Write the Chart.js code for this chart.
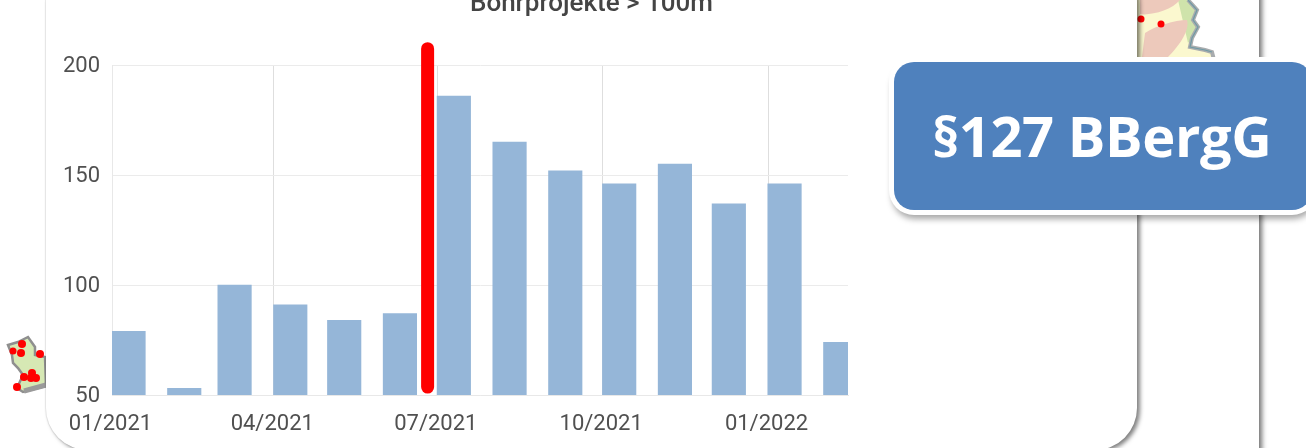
<!DOCTYPE html>
<html><head><meta charset="utf-8">
<script src="https://cdn.jsdelivr.net/npm/chart.js@4"></script>
<style>
html,body{margin:0;padding:0;background:#fff;width:1306px;height:448px;overflow:hidden}
#stage{position:relative;width:1306px;height:448px;overflow:hidden}
#slide{position:absolute;left:-60px;top:-60px;width:1319px;height:600px;background:#fff;box-shadow:3px 0 5px rgba(0,0,0,.55)}
#map{position:absolute;left:0;top:0}
#card{position:absolute;left:46px;top:-40px;width:1091px;height:490px;background:#fff;border-radius:42px;box-shadow:3px 2px 4px rgba(0,0,0,.5),-1px 0 1px rgba(0,0,0,.08)}
#wrap{position:absolute;left:46px;top:-40px;width:1091px;height:486px}
#box{position:absolute;left:894px;top:62px;width:418px;height:148px;box-sizing:border-box;background:#4f81bd;border-radius:20px;box-shadow:0 0 0 5px #fff,1px 6px 6px 3px rgba(0,0,0,.35);color:#fff;font:700 56px "Open Sans",sans-serif;letter-spacing:-.4px;line-height:148px;padding-left:38px;white-space:nowrap}
#box span{position:relative;top:-1px}
</style></head>
<body><div id="stage">
<div id="slide"></div>
<svg id="map" width="1306" height="448">
 <path d="M8 345 L18 342 L28 337 L35 347 L35 355 L45 357 L46 386 L23 392 L17 388 L23 375 L18 368 L13 363 L12 355 Z" fill="#d6e8b4" stroke="#8f8f8f" stroke-width="2.5"/>
 <path d="M24 391 L46 385" stroke="#9a9a9a" stroke-width="5" fill="none"/>
 <g fill="#f00"><circle cx="22" cy="344" r="4"/><circle cx="21" cy="353" r="4"/><circle cx="13" cy="351" r="3.5"/><circle cx="40" cy="354" r="4"/><circle cx="24" cy="377" r="4"/><circle cx="32" cy="373" r="4"/><circle cx="31" cy="378" r="4"/><circle cx="36" cy="378" r="4"/><circle cx="17" cy="387" r="4"/></g>
 <path d="M1130 0 L1188 0 L1197 10 L1193 20 L1198 27 L1192 38 L1190 47 L1205 50 L1212 52 L1214 60 L1130 60 Z" fill="#fbf8cf"/>
 <path d="M1178 0 L1188 0 L1197 10 L1193 20 L1198 27 L1192 38 L1188 43 Z" fill="#cfe3ab"/>
 <path d="M1140 0 L1180 0 C1172 10 1150 16 1140 14 Z M1142 57 L1145 33 C1155 26 1175 20 1187 20 C1190 30 1180 45 1168 57 Z" fill="#edc9bb"/>
 <path d="M1188 0 L1197 10 L1193 20 L1198 27 L1192 38 L1190 47 L1205 50 L1212 52 L1214 60" fill="none" stroke="#a9acae" stroke-width="4"/>
 <path d="M1188 0 L1197 10 L1193 20 L1198 27 L1192 38 L1190 47 L1205 50 L1212 52" fill="none" stroke="#6f9aa5" stroke-width="1.2"/>
 <g fill="#f00"><circle cx="1141" cy="19" r="3.5"/><circle cx="1161" cy="24" r="3.5"/></g>
</svg>
<div id="card"></div>
<div id="wrap"><canvas id="c" width="1091" height="486"></canvas></div>
<div id="box"><span>§127 BBergG</span></div>
</div>
<script>
const titleText = "Bohrprojekte > 100m";
const monthStartDays = [0,31,59,90,120,151,181,212,243,273,304,334,365,396];
const counts = [79,53,100,91,84,87,186,165,152,146,155,137,146,74];
const tickDays = [0,90,181,273,365];
const tickLabels = ["01/2021","04/2021","07/2021","10/2021","01/2022"];
const yTicks = [50,100,150,200];
const markerDay = 175.6;
const markerRange = [53.6,207.5];
const barDaysHalf = 9.2;

const barPoints = monthStartDays.map((d,i)=>({x:d+barDaysHalf,y:counts[i]}));
const markerPoints = markerRange.map(v=>({x:markerDay,y:v}));

new Chart(document.getElementById('c'),{
  type:'bar',
  data:{datasets:[
    {type:'line',data:markerPoints,borderColor:'#ff0000',borderWidth:13,borderCapStyle:'round',pointRadius:0,clip:false,order:0},
    {type:'bar',data:barPoints,backgroundColor:'#95b6d8',barThickness:33.5,order:1}
  ]},
  options:{
    responsive:false,animation:false,
    layout:{padding:0},
    plugins:{
      legend:{display:false},tooltip:{enabled:false},
      title:{display:true,text:titleText,color:'#444',font:{family:'Roboto',size:26,weight:'500'},padding:{top:29,bottom:45}}
    },
    scales:{
      x:{type:'linear',offset:false,min:0,max:409.5,
        afterFit(s){s.height=51},
        afterBuildTicks(s){s.ticks=tickDays.map(v=>({value:v}))},
        grid:{color:'#dedede',lineWidth:1,drawTicks:false,offset:false},
        border:{color:'#e8e8e8'},
        ticks:{autoSkip:false,maxRotation:0,minRotation:0,padding:16,labelOffset:-1.5,color:'#505050',font:{family:'Roboto',size:22},
          callback(v){const i=tickDays.indexOf(v);return i<0?'':tickLabels[i]}}
      },
      y:{type:'linear',min:50,max:200,
        afterFit(s){s.width=66},
        afterBuildTicks(s){s.ticks=yTicks.map(v=>({value:v}))},
        grid:{color:'#ebebeb',lineWidth:1,drawTicks:false},
        border:{color:'#e8e8e8'},
        ticks:{padding:12,labelOffset:1.5,color:'#505050',font:{family:'Roboto',size:22}}
      },
      spacer:{type:'linear',position:'right',
        afterFit(s){s.width=289},
        grid:{display:false},border:{display:false},ticks:{display:false}
      }
    }
  }
});
</script>
</body></html>
